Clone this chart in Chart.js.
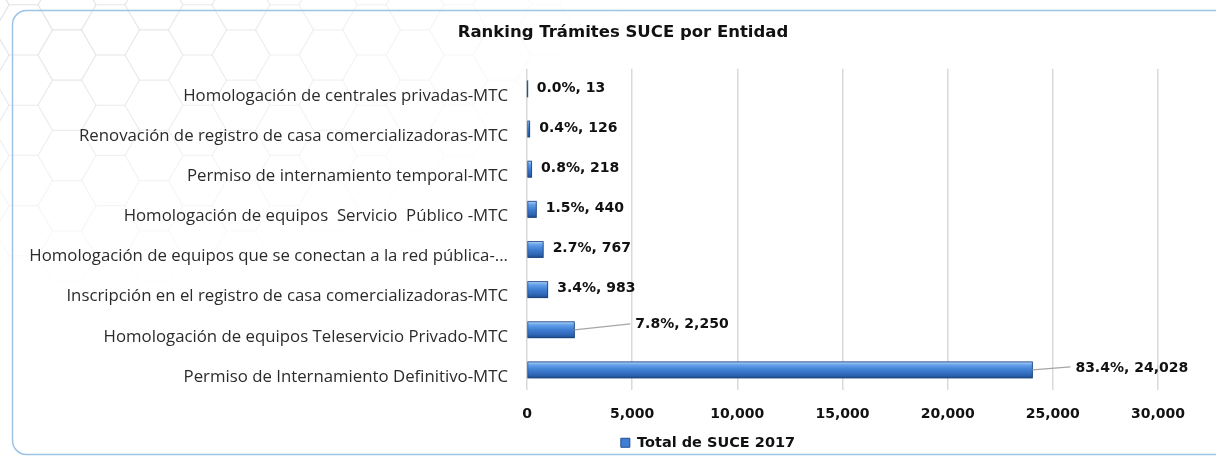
<!DOCTYPE html>
<html>
<head>
<meta charset="utf-8">
<script src="https://cdn.jsdelivr.net/npm/chart.js@4.4.0/dist/chart.umd.min.js"></script>
<style>
  html, body { margin: 0; padding: 0; background: #fff; }
  #wrap { width: 1216px; height: 456px; position: relative; }
</style>
</head>
<body>
<div id="wrap"><canvas id="grafico" width="1216" height="456"></canvas></div>
<script>
// Datos del ranking (de arriba hacia abajo)
const tramites = [
    "Homologación de centrales privadas-MTC",
    "Renovación de registro de casa comercializadoras-MTC",
    "Permiso de internamiento temporal-MTC",
    "Homologación de equipos  Servicio  Público -MTC",
    "Homologación de equipos que se conectan a la red pública-...",
    "Inscripción en el registro de casa comercializadoras-MTC",
    "Homologación de equipos Teleservicio Privado-MTC",
    "Permiso de Internamiento Definitivo-MTC"
];
const totales = [13, 126, 218, 440, 767, 983, 2250, 24028];
const porcentajes = [0.0, 0.4, 0.8, 1.5, 2.7, 3.4, 7.8, 83.4];
const marcasX = [0, 5000, 10000, 15000, 20000, 25000, 30000];

const fmt = n => n.toLocaleString('en-US');

// Fondo de hexagonos y marco redondeado
const fondoPlugin = {
    id: 'fondo',
    beforeDraw(chart) {
        const ctx = chart.ctx;
        ctx.save();
        const R = 29, h = Math.sqrt(3) * R;
        ctx.lineWidth = 1.2;
        for (let col = -2; col < 16; col++) {
            for (let row = -1; row < 9; row++) {
                const cx = 67 + col * 1.5 * R;
                const cy = 55 + row * h - (Math.abs(col) % 2 ? h / 2 : 0);
                const d = Math.sqrt(Math.pow(cx / 620, 2) + Math.pow(cy / 300, 2));
                const a = 0.16 * (1 - d);
                if (a <= 0) continue;
                ctx.strokeStyle = `rgba(150,155,165,${a.toFixed(3)})`;
                ctx.beginPath();
                for (let k = 0; k <= 6; k++) {
                    const ang = Math.PI / 3 * k;
                    const px = cx + R * Math.cos(ang), py = cy + R * Math.sin(ang);
                    k === 0 ? ctx.moveTo(px, py) : ctx.lineTo(px, py);
                }
                ctx.stroke();
            }
        }
        ctx.strokeStyle = '#9dc3e6';
        ctx.lineWidth = 1.5;
        ctx.beginPath();
        ctx.roundRect(12.5, 10.5, 1222, 444, 14);
        ctx.stroke();
        ctx.restore();
    },
    afterLayout(chart) {
        // centrar titulo y leyenda como en el original
        chart.titleBlock.left += 44;
        chart.titleBlock.right += 44;
        chart.legend.left += 129;
        chart.legend.right += 129;
        chart.legend.top += 4;
        chart.legend.bottom += 4;
    }
};

// Sombra, degradado de las barras y etiquetas de datos
const barrasPlugin = {
    id: 'barras',
    beforeDatasetsDraw(chart) {
        const ctx = chart.ctx;
        ctx.save();
        ctx.shadowColor = 'rgba(0,0,0,0.35)';
        ctx.shadowBlur = 3;
        ctx.shadowOffsetX = 1.5;
        ctx.shadowOffsetY = 2;
    },
    afterDatasetsDraw(chart) {
        const ctx = chart.ctx;
        ctx.restore();
        const meta = chart.getDatasetMeta(0);
        ctx.save();
        meta.data.forEach((bar, i) => {
            const p = bar.getProps(['x', 'y', 'base', 'height'], true);
            const top = p.y - p.height / 2;
            const g = ctx.createLinearGradient(0, top, 0, top + p.height);
            g.addColorStop(0, '#b0cff5');
            g.addColorStop(0.2, '#62a0ea');
            g.addColorStop(0.5, '#3f7ed2');
            g.addColorStop(0.8, '#2f67b6');
            g.addColorStop(1, '#1f4d90');
            ctx.fillStyle = g;
            ctx.fillRect(p.base, top, p.x - p.base, p.height);
            ctx.strokeStyle = 'rgba(30,70,130,0.75)';
            ctx.lineWidth = 1;
            ctx.strokeRect(p.base, top, p.x - p.base, p.height);
        });

        ctx.font = 'bold 14px "DejaVu Sans"';
        ctx.fillStyle = '#111';
        ctx.textBaseline = 'middle';
        ctx.textAlign = 'left';
        meta.data.forEach((bar, i) => {
            const texto = porcentajes[i].toFixed(1) + '%, ' + fmt(totales[i]);
            let dx = 9.5, dy = -1, guia = false;
            if (i === 6) { dx = 61; dy = -5; guia = true; }
            if (i === 7) { dx = 43; dy = -2; guia = true; }
            const tx = bar.x + dx, ty = bar.y + dy;
            if (guia) {
                ctx.strokeStyle = '#a6a6a6';
                ctx.lineWidth = 1.3;
                ctx.beginPath();
                ctx.moveTo(bar.x, bar.y);
                ctx.lineTo(tx - 5, ty - 1);
                ctx.stroke();
            }
            ctx.fillText(texto, tx, ty);
        });
        ctx.restore();
    }
};

const ctx = document.getElementById('grafico').getContext('2d');
new Chart(ctx, {
    type: 'bar',
    data: {
        labels: tramites,
        datasets: [{
            label: 'Total de SUCE 2017',
            data: totales,
            backgroundColor: '#3f7ed2',
            borderColor: '#1f4d90',
            borderWidth: 1,
            barThickness: 16
        }]
    },
    options: {
        indexAxis: 'y',
        responsive: false,
        animation: false,
        devicePixelRatio: 1,
        layout: { padding: { left: 0, right: 58, top: 0, bottom: 0 } },
        plugins: {
            title: {
                display: true,
                text: 'Ranking Trámites SUCE por Entidad',
                color: '#111',
                font: { family: 'DejaVu Sans', size: 16.5, weight: 'bold', lineHeight: 1.2 },
                padding: { top: 23, bottom: 26 }
            },
            legend: {
                position: 'bottom',
                labels: {
                    color: '#111',
                    font: { family: 'DejaVu Sans', size: 14.5, weight: 'bold' },
                    boxWidth: 9,
                    boxHeight: 9,
                    padding: 10
                }
            },
            tooltip: { enabled: false }
        },
        scales: {
            x: {
                min: 0,
                max: 30000,
                afterBuildTicks: s => { s.ticks = marcasX.map(v => ({ value: v })); },
                afterFit: s => { s.height = 31.5; },
                grid: { color: '#d9d9d9', lineWidth: 1.5, drawTicks: false },
                border: { display: false },
                ticks: {
                    color: '#111',
                    padding: 16,
                    font: { family: 'DejaVu Sans', size: 14, weight: 'bold' },
                    callback: v => fmt(v)
                }
            },
            y: {
                afterFit: s => { s.width = 527; },
                grid: { display: false, drawTicks: false },
                border: { display: false },
                ticks: {
                    color: '#2b2b2b',
                    padding: 19,
                    labelOffset: 7,
                    autoSkip: false,
                    font: { family: 'Open Sans', size: 16.8 }
                }
            }
        }
    },
    plugins: [fondoPlugin, barrasPlugin]
});
</script>
</body>
</html>
